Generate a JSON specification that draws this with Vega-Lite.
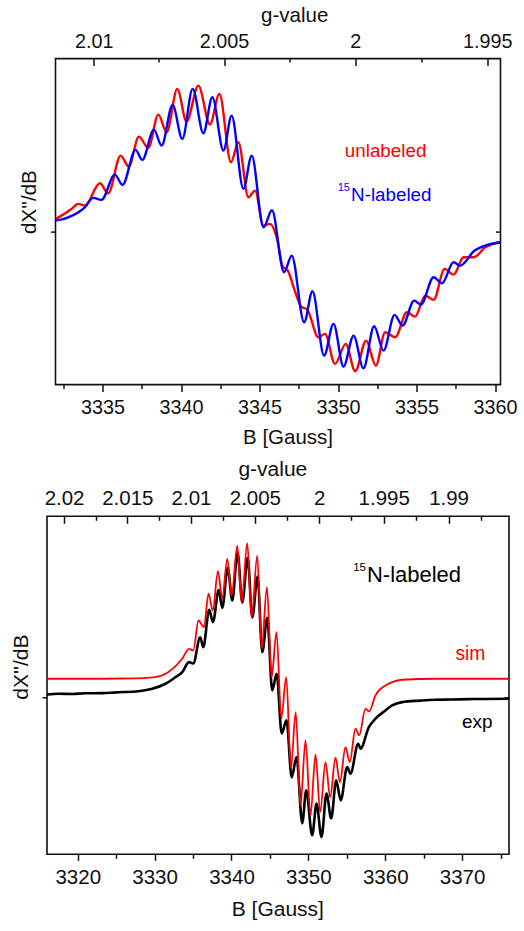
{
  "$schema": "https://vega.github.io/schema/vega-lite/v6.json",
  "background": "white",
  "padding": {"left": 9, "top": 4.6, "right": 5, "bottom": 5},
  "spacing": 131.7,
  "bounds": "flush",
  "center": true,
  "config": {
    "view": {"stroke": "#111", "strokeWidth": 1.6},
    "font": "Liberation Sans",
    "axis": {
      "domain": false, "grid": false,
      "tickColor": "#111", "tickWidth": 1.5,
      "labelFont": "Liberation Sans", "labelFontSize": 19.8, "labelColor": "#111",
      "titleFont": "Liberation Sans", "titleFontSize": 20.5, "titleFontWeight": "normal", "titleColor": "#111",
      "labelFlush": false, "labelOverlap": false
    }
  },
  "datasets": {
    "p1u": [
      {"B":3332.00,"v":12.7},{"B":3332.38,"v":16},{"B":3333.02,"v":22.7},{"B":3333.45,"v":27.7},{"B":3333.87,"v":26},
      {"B":3334.83,"v":48.3},{"B":3335.36,"v":38.3},{"B":3336.15,"v":76},{"B":3336.67,"v":65},{"B":3337.31,"v":95},
      {"B":3337.91,"v":83.7},{"B":3338.55,"v":117},{"B":3339.08,"v":99.3},{"B":3339.76,"v":142.7},{"B":3340.35,"v":110},
      {"B":3341.10,"v":146},{"B":3341.84,"v":107},{"B":3342.44,"v":137.7},{"B":3343.18,"v":69.3},{"B":3343.65,"v":89.3},
      {"B":3344.29,"v":34.3},{"B":3344.71,"v":41},{"B":3345.25,"v":6},{"B":3345.67,"v":7.7},{"B":3346.09,"v":-5.7},
      {"B":3346.48,"v":-35},{"B":3346.80,"v":-39},{"B":3347.24,"v":-59},{"B":3347.69,"v":-75.7},{"B":3348.01,"v":-77.3},
      {"B":3348.75,"v":-105.7},{"B":3349.17,"v":-102.3},{"B":3349.81,"v":-132.3},{"B":3350.49,"v":-112.3},{"B":3351.09,"v":-139.7},
      {"B":3351.79,"v":-109},{"B":3352.41,"v":-134},{"B":3353.00,"v":-100.7},{"B":3353.64,"v":-105.7},{"B":3354.39,"v":-80.7},
      {"B":3354.91,"v":-85},{"B":3355.55,"v":-64},{"B":3356.09,"v":-68.3},{"B":3356.79,"v":-37.3},{"B":3357.36,"v":-43},
      {"B":3358.00,"v":-25.7},{"B":3358.64,"v":-25.7},{"B":3359.38,"v":-15.7},{"B":3360.35,"v":-10.7}
    ],
    "p1n": [
      {"B":3332.00,"v":11},{"B":3332.81,"v":14.3},{"B":3333.87,"v":24.3},{"B":3334.40,"v":33.7},{"B":3334.93,"v":31.7},
      {"B":3335.78,"v":57},{"B":3336.27,"v":46.7},{"B":3337.10,"v":81.7},{"B":3337.53,"v":71.7},{"B":3338.27,"v":102},
      {"B":3338.76,"v":86},{"B":3339.46,"v":126.7},{"B":3340.08,"v":92.7},{"B":3340.74,"v":142.7},{"B":3341.42,"v":98.3},
      {"B":3341.99,"v":134.3},{"B":3342.70,"v":81},{"B":3343.22,"v":116},{"B":3343.97,"v":42.7},{"B":3344.50,"v":76},
      {"B":3345.25,"v":4.3},{"B":3345.79,"v":21.3},{"B":3346.56,"v":-40.7},{"B":3347.05,"v":-24},{"B":3347.84,"v":-90.7},
      {"B":3348.37,"v":-59.7},{"B":3349.11,"v":-124},{"B":3349.71,"v":-92.3},{"B":3350.35,"v":-135},{"B":3350.99,"v":-104},
      {"B":3351.62,"v":-136.7},{"B":3352.30,"v":-94.7},{"B":3352.90,"v":-119},{"B":3353.60,"v":-83.3},{"B":3354.11,"v":-94},
      {"B":3354.85,"v":-69},{"B":3355.28,"v":-73},{"B":3356.09,"v":-45.7},{"B":3356.62,"v":-51.7},{"B":3357.36,"v":-30.7},
      {"B":3357.78,"v":-34},{"B":3358.70,"v":-19},{"B":3359.38,"v":-14},{"B":3360.35,"v":-10.7}
    ],
    "p2e": [
      {"B":3316.0,"v":2.7},{"B":3317.5,"v":3.4},{"B":3319.29,"v":3.2},{"B":3321.0,"v":3.9},{"B":3323.19,"v":4},
      {"B":3325.0,"v":4.8},{"B":3327.52,"v":5.7},{"B":3329.69,"v":8.4},{"B":3331.42,"v":13.4},{"B":3332.72,"v":20},
      {"B":3333.59,"v":25},{"B":3334.47,"v":35},{"B":3335.03,"v":33.7},{"B":3335.93,"v":60},{"B":3336.33,"v":50},
      {"B":3337.10,"v":87.4},{"B":3337.59,"v":75},{"B":3338.34,"v":107.4},{"B":3338.80,"v":89.4},{"B":3339.51,"v":129.4},
      {"B":3340.10,"v":96.7},{"B":3340.79,"v":145},{"B":3341.40,"v":94.7},{"B":3342.11,"v":139.4},{"B":3342.70,"v":79.7},
      {"B":3343.39,"v":120.7},{"B":3344.00,"v":45},{"B":3344.65,"v":79.4},{"B":3345.30,"v":6.7},{"B":3345.88,"v":23.4},
      {"B":3346.53,"v":-36.3},{"B":3347.16,"v":-23.3},{"B":3347.83,"v":-80.3},{"B":3348.46,"v":-60},{"B":3349.20,"v":-126.3},
      {"B":3349.72,"v":-93.3},{"B":3350.50,"v":-138.3},{"B":3351.06,"v":-106.6},{"B":3351.71,"v":-140},{"B":3352.36,"v":-96.6},
      {"B":3352.97,"v":-121.3},{"B":3353.62,"v":-83.3},{"B":3354.21,"v":-103.3},{"B":3355.05,"v":-70},{"B":3355.48,"v":-76.6},
      {"B":3356.48,"v":-46.6},{"B":3356.78,"v":-51.6},{"B":3357.87,"v":-30},{"B":3358.73,"v":-21.6},{"B":3360.03,"v":-13.3},
      {"B":3360.90,"v":-8.3},{"B":3362.20,"v":-5},{"B":3364.5,"v":-3.5},{"B":3366.53,"v":-2.6},{"B":3368.5,"v":-2.4},
      {"B":3370.88,"v":-2},{"B":3373.0,"v":-1.8},{"B":3376.08,"v":-1.6}
    ],
    "p2s": [
      {"B":3316.0,"v":18.4},{"B":3323.19,"v":18.4},{"B":3327.52,"v":18.7},{"B":3329.69,"v":19.7},{"B":3330.99,"v":21.7},
      {"B":3332.29,"v":28},{"B":3333.59,"v":38.4},{"B":3334.47,"v":48.4},{"B":3335.03,"v":46.7},{"B":3335.71,"v":76.7},
      {"B":3336.42,"v":70},{"B":3337.01,"v":103.7},{"B":3337.56,"v":86.7},{"B":3338.24,"v":126},{"B":3338.80,"v":98.7},
      {"B":3339.45,"v":138.4},{"B":3340.03,"v":101.7},{"B":3340.75,"v":151.7},{"B":3341.33,"v":95},{"B":3342.05,"v":154},
      {"B":3342.63,"v":80},{"B":3343.35,"v":141.7},{"B":3343.93,"v":48.7},{"B":3344.61,"v":110},{"B":3345.21,"v":19.7},
      {"B":3345.86,"v":65},{"B":3346.47,"v":-21.3},{"B":3347.12,"v":20},{"B":3347.73,"v":-71.3},{"B":3348.35,"v":-15},
      {"B":3348.98,"v":-108.3},{"B":3349.63,"v":-43.3},{"B":3350.28,"v":-118.3},{"B":3350.93,"v":-57.3},{"B":3351.54,"v":-115},
      {"B":3352.23,"v":-65},{"B":3352.84,"v":-100.3},{"B":3353.53,"v":-60.6},{"B":3354.10,"v":-85},{"B":3354.83,"v":-50},
      {"B":3355.38,"v":-65},{"B":3356.13,"v":-31.6},{"B":3356.61,"v":-38.3},{"B":3357.43,"v":-11.6},{"B":3357.91,"v":-14.3},
      {"B":3358.73,"v":1.7},{"B":3360.03,"v":11.7},{"B":3360.90,"v":15},{"B":3362.20,"v":17.4},{"B":3366.53,"v":18.4},
      {"B":3376.08,"v":18.4}
    ]
  },
  "vconcat": [
    {
      "width": 445,
      "height": 326,
      "resolve": {"axis": {"x": "independent", "y": "independent"}},
      "layer": [
        {
          "data": {"name": "p1u"},
          "mark": {"type": "line", "color": "#ff0000", "strokeWidth": 2.4, "interpolate": "monotone", "clip": true},
          "encoding": {
            "x": {"field": "B", "type": "quantitative", "scale": {"domain": [3332, 3360.35], "nice": false, "zero": false},
              "axis": {"orient": "bottom", "values": [3335, 3340, 3345, 3350, 3355, 3360], "format": "d", "tickSize": 7, "labelPadding": 6, "title": "B [Gauss]", "titlePadding": 10, "titleX": 232}},
            "y": {"field": "v", "type": "quantitative", "scale": {"domain": [-153, 173], "nice": false, "zero": false},
              "axis": {"orient": "left", "values": [0], "labels": false, "tickSize": 5, "title": "dX''/dB", "titlePadding": 10, "titleY": 143}}
          }
        },
        {
          "data": {"name": "p1n"},
          "mark": {"type": "line", "color": "#0000ff", "strokeWidth": 2.4, "interpolate": "monotone", "clip": true},
          "encoding": {
            "x": {"field": "B", "type": "quantitative", "scale": {"domain": [3332, 3360.35], "nice": false, "zero": false}, "axis": null},
            "y": {"field": "v", "type": "quantitative", "scale": {"domain": [-153, 173], "nice": false, "zero": false}, "axis": null}
          }
        },
        {
          "data": {"name": "p1u"},
          "mark": {"type": "point", "opacity": 0},
          "encoding": {
            "x": {"field": "B", "type": "quantitative", "scale": {"domain": [3332, 3360.35], "nice": false, "zero": false},
              "axis": {"orient": "bottom", "values": [3332.5, 3337.5, 3342.5, 3347.5, 3352.5, 3357.5], "labels": false, "tickSize": 4, "title": null}},
            "y": {"field": "v", "type": "quantitative", "scale": {"domain": [-153, 173], "nice": false, "zero": false},
              "axis": {"orient": "right", "values": [0], "labels": false, "tickSize": -5, "title": null}}
          }
        },
        {
          "data": {"name": "p1u"},
          "mark": {"type": "point", "opacity": 0},
          "encoding": {
            "x": {"field": "B", "type": "quantitative", "scale": {"domain": [3332, 3360.35], "nice": false, "zero": false},
              "axis": {"orient": "top", "values": [3334.43, 3342.74, 3351.10, 3359.50], "labelExpr": "format(6702.2 / datum.value, '.3~f')", "tickSize": -7, "labelPadding": 14, "title": "g-value", "titlePadding": 6, "titleX": 238.7}},
            "y": {"field": "v", "type": "quantitative", "scale": {"domain": [-153, 173], "nice": false, "zero": false}, "axis": null}
          }
        },
        {
          "data": {"name": "p1u"},
          "mark": {"type": "point", "opacity": 0},
          "encoding": {
            "x": {"field": "B", "type": "quantitative", "scale": {"domain": [3332, 3360.35], "nice": false, "zero": false},
              "axis": {"orient": "top", "values": [3338.58, 3346.92, 3355.29], "labels": false, "tickSize": -3.5, "title": null}},
            "y": {"field": "v", "type": "quantitative", "scale": {"domain": [-153, 173], "nice": false, "zero": false}, "axis": null}
          }
        },
        {
          "data": {"values": [{"B": 3353.03, "v": 75, "t": "unlabeled"}]},
          "mark": {"type": "text", "color": "#ff0000", "fontSize": 18.8, "font": "Liberation Sans", "align": "center", "baseline": "alphabetic"},
          "encoding": {
            "x": {"field": "B", "type": "quantitative", "scale": {"domain": [3332, 3360.35], "nice": false, "zero": false}, "axis": null},
            "y": {"field": "v", "type": "quantitative", "scale": {"domain": [-153, 173], "nice": false, "zero": false}, "axis": null},
            "text": {"field": "t"}
          }
        },
        {
          "data": {"values": [{"B": 3349.98, "v": 41, "t": "15"}]},
          "mark": {"type": "text", "color": "#0000ff", "fontSize": 11, "font": "Liberation Sans", "align": "left", "baseline": "alphabetic"},
          "encoding": {
            "x": {"field": "B", "type": "quantitative", "scale": {"domain": [3332, 3360.35], "nice": false, "zero": false}, "axis": null},
            "y": {"field": "v", "type": "quantitative", "scale": {"domain": [-153, 173], "nice": false, "zero": false}, "axis": null},
            "text": {"field": "t"}
          }
        },
        {
          "data": {"values": [{"B": 3350.83, "v": 31, "t": "N-labeled"}]},
          "mark": {"type": "text", "color": "#0000ff", "fontSize": 18.8, "font": "Liberation Sans", "align": "left", "baseline": "alphabetic"},
          "encoding": {
            "x": {"field": "B", "type": "quantitative", "scale": {"domain": [3332, 3360.35], "nice": false, "zero": false}, "axis": null},
            "y": {"field": "v", "type": "quantitative", "scale": {"domain": [-153, 173], "nice": false, "zero": false}, "axis": null},
            "text": {"field": "t"}
          }
        }
      ]
    },
    {
      "width": 462,
      "height": 338,
      "resolve": {"axis": {"x": "independent", "y": "independent"}},
      "layer": [
        {
          "data": {"name": "p2e"},
          "mark": {"type": "line", "color": "#000000", "strokeWidth": 2.6, "interpolate": "monotone", "clip": true},
          "encoding": {
            "x": {"field": "B", "type": "quantitative", "scale": {"domain": [3316, 3376.1], "nice": false, "zero": false},
              "axis": {"orient": "bottom", "values": [3320, 3330, 3340, 3350, 3360, 3370], "format": "d", "tickSize": 6, "labelPadding": 7, "labelFontSize": 20.5, "title": "B [Gauss]", "titleFontSize": 21, "titlePadding": 11, "titleX": 230.3}},
            "y": {"field": "v", "type": "quantitative", "scale": {"domain": [-157.3, 181], "nice": false, "zero": false},
              "axis": {"orient": "left", "values": [0], "labels": false, "tickSize": 5, "title": "dX''/dB", "titleFontSize": 21, "titlePadding": 10, "titleY": 150.3}}
          }
        },
        {
          "data": {"name": "p2s"},
          "mark": {"type": "line", "color": "#ff0000", "strokeWidth": 1.8, "interpolate": "monotone", "clip": true},
          "encoding": {
            "x": {"field": "B", "type": "quantitative", "scale": {"domain": [3316, 3376.1], "nice": false, "zero": false}, "axis": null},
            "y": {"field": "v", "type": "quantitative", "scale": {"domain": [-157.3, 181], "nice": false, "zero": false}, "axis": null}
          }
        },
        {
          "data": {"name": "p2e"},
          "mark": {"type": "point", "opacity": 0},
          "encoding": {
            "x": {"field": "B", "type": "quantitative", "scale": {"domain": [3316, 3376.1], "nice": false, "zero": false},
              "axis": {"orient": "bottom", "values": [3325, 3335, 3345, 3355, 3365, 3375], "labels": false, "tickSize": 4, "title": null}},
            "y": {"field": "v", "type": "quantitative", "scale": {"domain": [-157.3, 181], "nice": false, "zero": false},
              "axis": {"orient": "right", "values": [0], "labels": false, "tickSize": -5, "title": null}}
          }
        },
        {
          "data": {"name": "p2e"},
          "mark": {"type": "point", "opacity": 0},
          "encoding": {
            "x": {"field": "B", "type": "quantitative", "scale": {"domain": [3316, 3376.1], "nice": false, "zero": false},
              "axis": {"orient": "top", "values": [3318.22, 3326.45, 3334.73, 3343.04, 3351.40, 3359.80, 3368.24], "labelExpr": "format(6702.8 / datum.value, '.3~f')", "tickSize": -7, "labelPadding": 15, "labelFontSize": 20.5, "title": "g-value", "titleFontSize": 21, "titlePadding": 9, "titleX": 225.3}},
            "y": {"field": "v", "type": "quantitative", "scale": {"domain": [-157.3, 181], "nice": false, "zero": false}, "axis": null}
          }
        },
        {
          "data": {"name": "p2e"},
          "mark": {"type": "point", "opacity": 0},
          "encoding": {
            "x": {"field": "B", "type": "quantitative", "scale": {"domain": [3316, 3376.1], "nice": false, "zero": false},
              "axis": {"orient": "top", "values": [3322.33, 3330.58, 3338.88, 3347.22, 3355.59, 3364.02, 3372.48], "labels": false, "tickSize": -4, "title": null}},
            "y": {"field": "v", "type": "quantitative", "scale": {"domain": [-157.3, 181], "nice": false, "zero": false}, "axis": null}
          }
        },
        {
          "data": {"values": [{"B": 3355.83, "v": 126.7, "t": "15"}]},
          "mark": {"type": "text", "color": "#000000", "fontSize": 11.5, "font": "Liberation Sans", "align": "left", "baseline": "alphabetic"},
          "encoding": {
            "x": {"field": "B", "type": "quantitative", "scale": {"domain": [3316, 3376.1], "nice": false, "zero": false}, "axis": null},
            "y": {"field": "v", "type": "quantitative", "scale": {"domain": [-157.3, 181], "nice": false, "zero": false}, "axis": null},
            "text": {"field": "t"}
          }
        },
        {
          "data": {"values": [{"B": 3357.62, "v": 115, "t": "N-labeled"}]},
          "mark": {"type": "text", "color": "#000000", "fontSize": 22, "font": "Liberation Sans", "align": "left", "baseline": "alphabetic"},
          "encoding": {
            "x": {"field": "B", "type": "quantitative", "scale": {"domain": [3316, 3376.1], "nice": false, "zero": false}, "axis": null},
            "y": {"field": "v", "type": "quantitative", "scale": {"domain": [-157.3, 181], "nice": false, "zero": false}, "axis": null},
            "text": {"field": "t"}
          }
        },
        {
          "data": {"values": [{"B": 3371.08, "v": 37.4, "t": "sim"}]},
          "mark": {"type": "text", "color": "#ff0000", "fontSize": 19.3, "font": "Liberation Sans", "align": "center", "baseline": "alphabetic"},
          "encoding": {
            "x": {"field": "B", "type": "quantitative", "scale": {"domain": [3316, 3376.1], "nice": false, "zero": false}, "axis": null},
            "y": {"field": "v", "type": "quantitative", "scale": {"domain": [-157.3, 181], "nice": false, "zero": false}, "axis": null},
            "text": {"field": "t"}
          }
        },
        {
          "data": {"values": [{"B": 3371.96, "v": -30.6, "t": "exp"}]},
          "mark": {"type": "text", "color": "#000000", "fontSize": 19, "font": "Liberation Sans", "align": "center", "baseline": "alphabetic"},
          "encoding": {
            "x": {"field": "B", "type": "quantitative", "scale": {"domain": [3316, 3376.1], "nice": false, "zero": false}, "axis": null},
            "y": {"field": "v", "type": "quantitative", "scale": {"domain": [-157.3, 181], "nice": false, "zero": false}, "axis": null},
            "text": {"field": "t"}
          }
        }
      ]
    }
  ]
}
